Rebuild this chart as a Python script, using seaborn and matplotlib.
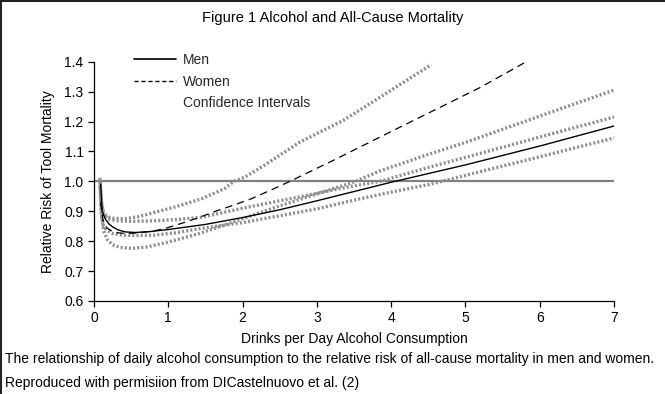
import matplotlib
matplotlib.use("Agg")
import matplotlib.pyplot as plt
from matplotlib.lines import Line2D
import seaborn as sns

# curves (drinks per day -> relative risk)
men_x = [0.09, 0.11, 0.15, 0.2, 0.25, 0.32, 0.42, 0.55, 0.75, 1.0, 1.5, 2.0, 2.5, 3.0, 3.5, 4.0, 5.0, 6.0, 7.0]
men_y = [0.99, 0.90, 0.875, 0.858, 0.848, 0.838, 0.831, 0.829, 0.832, 0.839, 0.856, 0.879, 0.905, 0.935, 0.966, 0.997, 1.055, 1.118, 1.185]

women_x = [0.09, 0.12, 0.17, 0.24, 0.32, 0.42, 0.55, 0.78, 0.95, 1.21, 1.4, 1.67, 1.85, 2.12, 2.4, 2.62, 3.22, 3.85, 4.5, 5.2, 5.82]
women_y = [0.93, 0.87, 0.845, 0.834, 0.828, 0.826, 0.827, 0.833, 0.842, 0.862, 0.878, 0.903, 0.918, 0.942, 0.973, 0.998, 1.07, 1.148, 1.228, 1.314, 1.40]

women_hi_x = [0.08, 0.1, 0.13, 0.18, 0.25, 0.4, 0.6, 0.87, 1.1, 1.45, 1.76, 1.88, 2.03, 2.3, 2.77, 3.35, 3.85, 4.54]
women_hi_y = [1.012, 0.93, 0.895, 0.882, 0.877, 0.875, 0.882, 0.9, 0.915, 0.942, 0.976, 1.0, 1.014, 1.055, 1.131, 1.203, 1.281, 1.39]

women_lo_x = [0.08, 0.1, 0.13, 0.18, 0.25, 0.35, 0.5, 0.7, 1.0, 1.45, 2.0, 2.5, 3.0, 3.5, 3.85, 4.5, 5.0, 6.0, 7.0]
women_lo_y = [1.0, 0.9, 0.835, 0.805, 0.788, 0.779, 0.776, 0.78, 0.797, 0.828, 0.875, 0.918, 0.958, 0.998, 1.035, 1.09, 1.13, 1.218, 1.305]

men_hi_x = [0.08, 0.1, 0.13, 0.18, 0.3, 0.5, 0.8, 1.1, 1.45, 1.76, 2.0, 2.5, 3.0, 3.5, 3.85, 4.52, 5.0, 6.0, 7.0]
men_hi_y = [1.005, 0.93, 0.89, 0.875, 0.868, 0.866, 0.868, 0.872, 0.88, 0.897, 0.91, 0.935, 0.96, 0.985, 1.0, 1.048, 1.08, 1.148, 1.215]

men_lo_x = [0.08, 0.1, 0.13, 0.18, 0.25, 0.35, 0.5, 0.8, 1.1, 1.45, 2.0, 2.5, 3.0, 3.5, 4.0, 4.52, 5.0, 6.0, 7.0]
men_lo_y = [0.98, 0.88, 0.85, 0.835, 0.826, 0.821, 0.819, 0.82, 0.828, 0.843, 0.862, 0.885, 0.908, 0.937, 0.964, 0.99, 1.02, 1.082, 1.145]

x_ticks = [0, 1, 2, 3, 4, 5, 6, 7]
y_ticks = [0.6, 0.7, 0.8, 0.9, 1.0, 1.1, 1.2, 1.3, 1.4]

sns.set_theme(style="ticks")
plt.rcParams['font.family'] = ['Liberation Sans', 'DejaVu Sans']

fig = plt.figure(figsize=(6.65, 3.94), dpi=100)
ax = fig.add_axes([94 / 665, 1 - 301 / 394, 520 / 665, 239.3 / 394])

ax.axhline(1.0, color="#808080", lw=1.6, zorder=1)

ci_gray = "#8c8c8c"
for cx, cy in [(women_hi_x, women_hi_y), (women_lo_x, women_lo_y),
               (men_hi_x, men_hi_y), (men_lo_x, men_lo_y)]:
    sns.lineplot(x=cx, y=cy, ax=ax, color=ci_gray, lw=2.4,
                 linestyle=(0, (0.6, 0.65)), estimator=None, sort=False, zorder=2)

sns.lineplot(x=women_x, y=women_y, ax=ax, color="black", lw=0.9,
             linestyle=(0, (6, 4)), estimator=None, sort=False, zorder=3)
sns.lineplot(x=men_x, y=men_y, ax=ax, color="black", lw=1.0,
             estimator=None, sort=False, zorder=4)

ax.set_xlim(0, 7)
ax.set_ylim(0.6, 1.4)
ax.set_xticks(x_ticks)
ax.set_xticklabels([str(t) for t in x_ticks])
ax.set_yticks(y_ticks)
ax.set_yticklabels([f"{t:.1f}" for t in y_ticks])
ax.tick_params(axis="both", labelsize=10, length=4.5, width=0.9, color="black",
               labelcolor="black", pad=3)
sns.despine(ax=ax)
for s in ["left", "bottom"]:
    ax.spines[s].set_color("black")
    ax.spines[s].set_linewidth(0.9)

ax.set_xlabel("Drinks per Day Alcohol Consumption", fontsize=10, color="black", labelpad=5)
ax.set_ylabel("Relative Risk of Tool Mortality", fontsize=10, color="black", labelpad=7)

handles = [Line2D([], [], color="black", lw=1.2),
           Line2D([], [], color="black", lw=1.0, linestyle=(0, (3, 2))),
           Line2D([], [], linestyle="none")]
fig.legend(handles, ["Men", "Women", "Confidence Intervals"],
           loc="upper left", bbox_to_anchor=(134 / 665, 1 - 53 / 394),
           frameon=False, fontsize=10, handlelength=3.0, handletextpad=0.5,
           borderpad=0, borderaxespad=0, labelspacing=0.55)

fig.text(0.5, 1 - 18 / 394, "Figure 1 Alcohol and All-Cause Mortality",
         ha="center", va="center", fontsize=10.5, color="black")
fig.text(5 / 665, 1 - 359 / 394,
         "The relationship of daily alcohol consumption to the relative risk of all-cause mortality in men and women.",
         ha="left", va="center", fontsize=10, color="black")
fig.text(5 / 665, 1 - 383 / 394,
         "Reproduced with permisiion from DICastelnuovo et al. (2)",
         ha="left", va="center", fontsize=10, color="black")

# partial frame along the top and left edge
fig.add_artist(Line2D([0, 1], [0.998, 0.998], transform=fig.transFigure, color="#222222", lw=1.5))
fig.add_artist(Line2D([0.0015, 0.0015], [0, 1], transform=fig.transFigure, color="#222222", lw=1.5))

fig.savefig("out.png", dpi=100)
